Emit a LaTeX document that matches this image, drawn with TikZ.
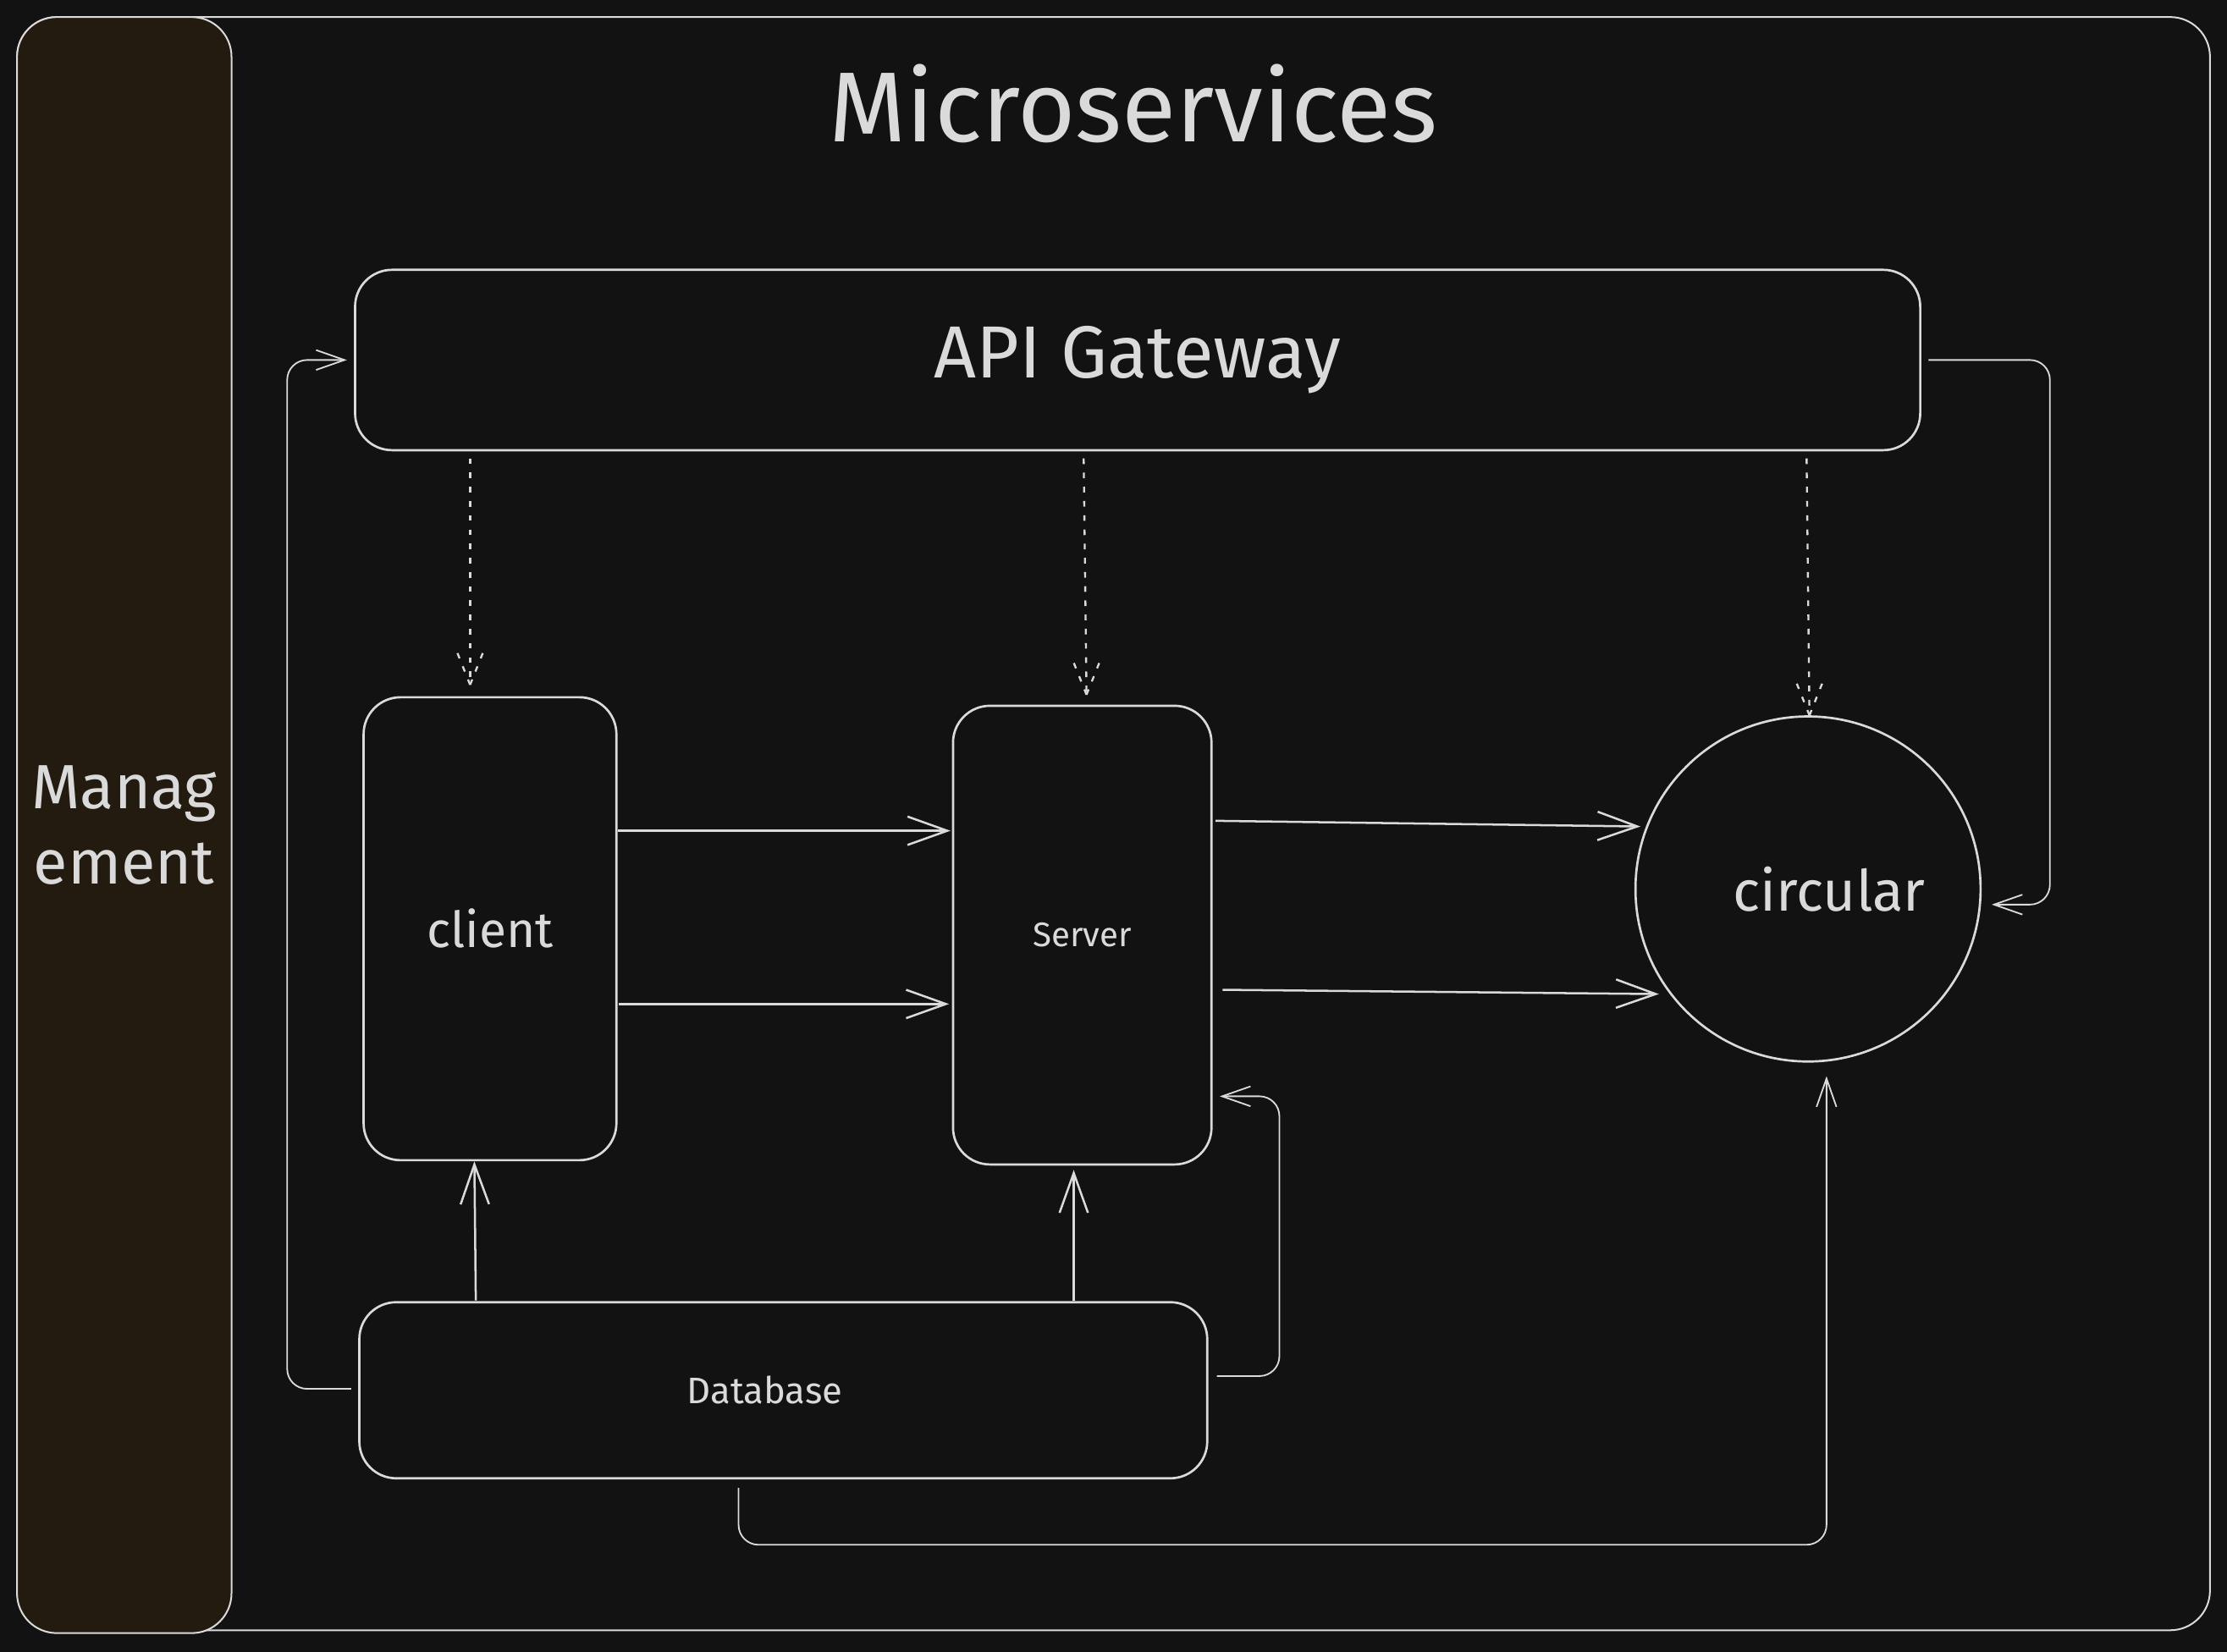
\documentclass[tikz,border=0pt]{standalone}
\usepackage{fontspec}
\setmainfont{Fira Sans}
\usetikzlibrary{arrows.meta,calc}
\definecolor{bg}{HTML}{121212}
\definecolor{ink}{HTML}{DADADA}
\definecolor{bandfill}{HTML}{231A10}
\newcommand{\dotarrow}[2]{%
  \draw[dotline] (#1) -- (#2);
  \draw[dotline] (#2) -- ++(-10,-25);
  \draw[dotline] (#2) -- ++(10,-25);
}
\begin{document}
\begin{tikzpicture}[x=0.5pt,y=-0.5pt,
  box/.style={draw=ink, line width=0.8pt, rounded corners=13pt, fill=bg, text=ink, inner sep=0pt, font=\fontsize{17.5pt}{20pt}\selectfont},
  framebox/.style={draw=ink, line width=0.6pt, rounded corners=14pt, inner sep=0pt},
  conn/.style={draw=ink, line width=0.75pt, -{Straight Barb[length=14pt,width=10pt]}},
  elbow/.style={draw=ink, line width=0.55pt, rounded corners=7pt, -{Straight Barb[length=10pt,width=7pt]}},
  dotline/.style={draw=ink, line width=0.7pt, dash pattern=on 2pt off 3pt},
  lbl/.style={text=ink, inner sep=0pt}
]
\useasboundingbox (0,0) rectangle (1568,1163);
\fill[bg] (-10,-10) rectangle (1578,1173);

% outer frame and management band
\node[framebox, minimum width=772pt, minimum height=568pt] (outer) at (784,580) {};
\node[framebox, fill=bandfill, minimum width=75.5pt, minimum height=569pt, text=ink, align=center,
  font=\fontsize{22pt}{26.5pt}\selectfont] (mgmt) at (87.5,581) {Manag\\ement};

\node[lbl, font=\fontsize{35pt}{40pt}\selectfont] (title) at (798,73) {Microservices};

% main nodes
\node[box, minimum width=551pt, minimum height=63.5pt, font=\fontsize{26pt}{30pt}\selectfont] (api) at (801,253.5) {API Gateway};
\node[box, minimum width=89pt, minimum height=163pt] (client) at (345,654) {client};
\node[box, minimum width=91pt, minimum height=161.5pt, font=\fontsize{12pt}{14pt}\selectfont] (srv) at (762,658.5) {Server};
\node[box, circle, minimum size=121.5pt, font=\fontsize{20pt}{24pt}\selectfont] (circ) at (1273,626) {\kern15pt circular};
\node[box, minimum width=298.5pt, minimum height=62pt, font=\fontsize{13pt}{15pt}\selectfont] (db) at (551.5,979) {Database\kern13pt};

% dotted arrows from gateway
\coordinate (d1a) at ($(api.south)+(-470,5)$);
\coordinate (d1b) at ($(client.north)+(-14,-8)$);
\coordinate (d2a) at ($(api.south)+(-38,5)$);
\coordinate (d2b) at ($(srv.north)+(3,-7)$);
\coordinate (d3a) at ($(api.south)+(471,5)$);
\coordinate (d3b) at ($(circ.north)+(1,0)$);
\dotarrow{d1a}{d1b}
\dotarrow{d2a}{d2b}
\dotarrow{d3a}{d3b}

% client -> server
\draw[conn] ($(client.east)+(0,-69)$) -- ($(srv.west)+(-1,-73.5)$);
\draw[conn] ($(client.east)+(1,53)$) -- ($(srv.west)+(-2,48.5)$);

% server -> circle
\draw[conn] ($(srv.east)+(2,-80.5)$) -- ($(circ.center)+(-118,-44)$);
\draw[conn] ($(srv.east)+(7,38.5)$) -- ($(circ.center)+(-105,74)$);

% database -> client / server
\draw[conn] ($(client.south)+(-10,98)$) -- ($(client.south)+(-11,0)$);
\draw[conn] ($(srv.south)+(-6,95)$) -- ($(srv.south)+(-6,3)$);

% elbow connectors
\coordinate (r1) at ($(circ.east)+(48,11)$);
\draw[elbow] ($(api.east)+(5,0)$) -| (r1) -- ($(circ.east)+(7,11)$);
\draw[elbow] ($(db.west)+(-5,-1)$) -- ++(-45,0) |- ($(api.west)+(-5,0)$);
\draw[elbow] ($(db.east)+(6,-10)$) -- ++(44,0) |- ($(srv.east)+(5,113.5)$);
\draw[elbow] ($(db.south)+(-31.5,6)$) -- ++(0,40) -| ($(circ.south)+(13,9.5)$);
\end{tikzpicture}
\end{document}
